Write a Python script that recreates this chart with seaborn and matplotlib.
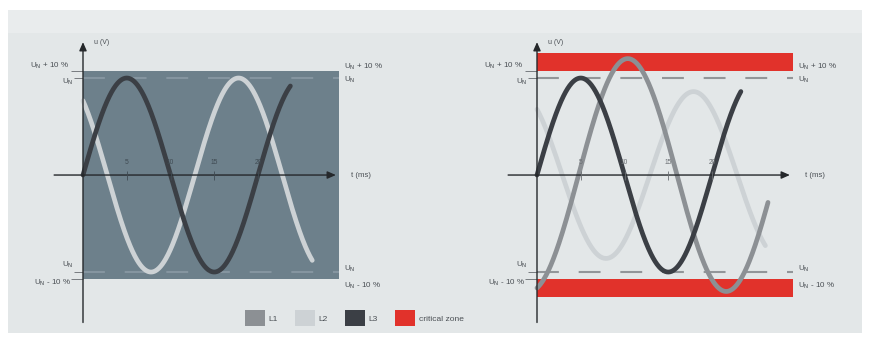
import numpy as np
import pandas as pd
import matplotlib.pyplot as plt
from matplotlib.patches import Patch, Rectangle
import seaborn as sns

# ---------------------------------------------------------------------------
# DATA (time in ms, voltage in per-unit of U_N)
# ---------------------------------------------------------------------------
phase_names = ["L1", "L2", "L3"]
phase_colors = ["#8c9094", "#cdd2d5", "#3b3f45"]
critical_color = "#e1322b"
legend_labels = ["L1", "L2", "L3", "critical zone"]

un_level = 1.0          # U_N
limit_level = 1.07      # U_N +/- 10 % (drawn, not to scale)
critical_outer = 1.26   # outer edge of the red critical bands
zone_end_ms = 29.3

tick_ms = [5, 10, 15, 20]
tick_text = ["5", "10", "15", "20"]

# left diagram: supply stays inside the tolerance band
left_phase = ["L2", "L3"]
left_amp = [1.0, 1.0]
left_period = [20.0, 20.0]
left_shift_deg = [130, 0]
left_end_ms = [26.2, 23.7]

# right diagram: L1 runs into the critical zone
right_phase = ["L2", "L1", "L3"]
right_amp = [0.86, 1.2, 1.0]
right_period = [20.0, 22.5, 20.0]
right_shift_deg = [128, -76, 0]
right_end_ms = [26.1, 26.4, 23.3]

# ---------------------------------------------------------------------------
# STYLE
# ---------------------------------------------------------------------------
sns.set_style("white")
plt.rcParams["font.family"] = ["Liberation Sans", "DejaVu Sans"]
plt.rcParams["mathtext.fontset"] = "dejavusans"

palette = dict(zip(phase_names, phase_colors))
txt_col = "#4a4f54"
axis_col = "#25282b"


def wave_frame(names, amps, periods, shifts, ends):
    parts = []
    for name, a, p, s, e in zip(names, amps, periods, shifts, ends):
        t = np.linspace(0, e, 400)
        u = a * np.sin(2 * np.pi * t / p + np.deg2rad(s))
        parts.append(pd.DataFrame({"t": t, "u": u, "phase": name}))
    return pd.concat(parts, ignore_index=True)


def draw_axes(ax, tick_col):
    # y axis with arrow
    ax.annotate("", xy=(0, 1.37), xytext=(0, -1.52),
                arrowprops=dict(arrowstyle="-|>,head_length=0.5,head_width=0.22",
                                lw=1.0, color=axis_col, shrinkA=0, shrinkB=0),
                zorder=6)
    # x axis with arrow
    ax.annotate("", xy=(28.9, 0), xytext=(-3.3, 0),
                arrowprops=dict(arrowstyle="-|>,head_length=0.5,head_width=0.22",
                                lw=1.0, color=axis_col, shrinkA=0, shrinkB=0),
                zorder=6)
    ax.vlines(tick_ms, -0.05, 0.04, color=tick_col, lw=0.6, zorder=6)
    for t, s in zip(tick_ms, tick_text):
        ax.text(t, 0.13, s, fontsize=4.8, color=tick_col, ha="center", va="center", zorder=7)
    ax.text(1.2, 1.37, "u (V)", fontsize=5, color=txt_col, ha="left", va="center")
    ax.text(30.6, 0.0, "t (ms)", fontsize=5.6, color=txt_col, ha="left", va="center")


def draw_level_labels(ax):
    fs = 5.8
    # left side
    ax.text(-1.6, 1.13, r"U$_\mathrm{N}$ + 10 %", fontsize=fs, color=txt_col, ha="right", va="center")
    ax.text(-1.1, 0.96, r"U$_\mathrm{N}$", fontsize=fs, color=txt_col, ha="right", va="center")
    ax.text(-1.1, -0.93, r"U$_\mathrm{N}$", fontsize=fs, color=txt_col, ha="right", va="center")
    ax.text(-1.3, -1.11, r"U$_\mathrm{N}$ - 10 %", fontsize=fs, color=txt_col, ha="right", va="center")
    ax.hlines([limit_level, -limit_level], -1.4, 0, color="#777b7f", lw=0.7)
    ax.hlines([un_level, -un_level], -1.0, 0, color="#777b7f", lw=0.7)
    # right side
    ax.text(29.8, 1.12, r"U$_\mathrm{N}$ + 10 %", fontsize=fs, color=txt_col, ha="left", va="center")
    ax.text(29.8, 0.98, r"U$_\mathrm{N}$", fontsize=fs, color=txt_col, ha="left", va="center")
    ax.text(29.8, -0.97, r"U$_\mathrm{N}$", fontsize=fs, color=txt_col, ha="left", va="center")
    ax.text(29.8, -1.14, r"U$_\mathrm{N}$ - 10 %", fontsize=fs, color=txt_col, ha="left", va="center")


# ---------------------------------------------------------------------------
# PLOT
# ---------------------------------------------------------------------------
fig = plt.figure(figsize=(8.71, 3.44), dpi=100)
fig.patch.set_facecolor("white")
fig.patches.append(Rectangle((8 / 871, 1 - 333 / 344), 854 / 871, 323 / 344,
                             transform=fig.transFigure, facecolor="#e3e7e8",
                             edgecolor="none", zorder=-10))
fig.patches.append(Rectangle((8 / 871, 1 - 33 / 344), 854 / 871, 23 / 344,
                             transform=fig.transFigure, facecolor="#e9eced",
                             edgecolor="none", zorder=-9))

ax_l = fig.add_axes([20 / 871, 9 / 344, 420 / 871, 305 / 344])
ax_r = fig.add_axes([474 / 871, 9 / 344, 420 / 871, 305 / 344])
for ax in (ax_l, ax_r):
    ax.set_xlim(-7.2, 40.8)
    ax.set_ylim(-1.649, 1.495)
    ax.set_axis_off()
    ax.patch.set_alpha(0)

dash = (0, (10.5, 9.5))

# left: tolerance band
ax_l.fill_between([0, zone_end_ms], -limit_level, limit_level, color="#6d808b", lw=0, zorder=1)
ax_l.hlines([un_level, -un_level], 0, zone_end_ms, color="#8595a0", lw=1.5,
            linestyles=[dash], zorder=2)
left_df = wave_frame(left_phase, left_amp, left_period, left_shift_deg, left_end_ms)
sns.lineplot(data=left_df, x="t", y="u", hue="phase", hue_order=left_phase,
             palette=palette, linewidth=3.4, legend=False, estimator=None,
             sort=False, ax=ax_l, zorder=3)
draw_axes(ax_l, "#3f4a52")
draw_level_labels(ax_l)

# right: critical zones
ax_r.fill_between([0, zone_end_ms], limit_level, critical_outer, color=critical_color, lw=0, zorder=1)
ax_r.fill_between([0, zone_end_ms], -critical_outer, -limit_level, color=critical_color, lw=0, zorder=1)
ax_r.hlines([un_level, -un_level], 0, zone_end_ms, color="#929699", lw=1.5,
            linestyles=[dash], zorder=2)
right_df = wave_frame(right_phase, right_amp, right_period, right_shift_deg, right_end_ms)
sns.lineplot(data=right_df, x="t", y="u", hue="phase", hue_order=right_phase,
             palette=palette, linewidth=3.4, legend=False, estimator=None,
             sort=False, ax=ax_r, zorder=3)
draw_axes(ax_r, "#6a6e72")
draw_level_labels(ax_r)

for ax in (ax_l, ax_r):
    ax.set_xlabel("")
    ax.set_ylabel("")

# legend
handles = [Patch(facecolor=c, edgecolor="none", label=l)
           for c, l in zip(phase_colors + [critical_color], legend_labels)]
leg = fig.legend(handles=handles, loc="center left",
                 bbox_to_anchor=(245 / 871, 1 - 318 / 344), ncol=4, frameon=False,
                 fontsize=6, handlelength=2.4, handleheight=2.4,
                 handletextpad=0.4, columnspacing=2.1, borderpad=0, borderaxespad=0)
for t in leg.get_texts():
    t.set_color(txt_col)

fig.savefig("out.png", dpi=100, facecolor="white")
